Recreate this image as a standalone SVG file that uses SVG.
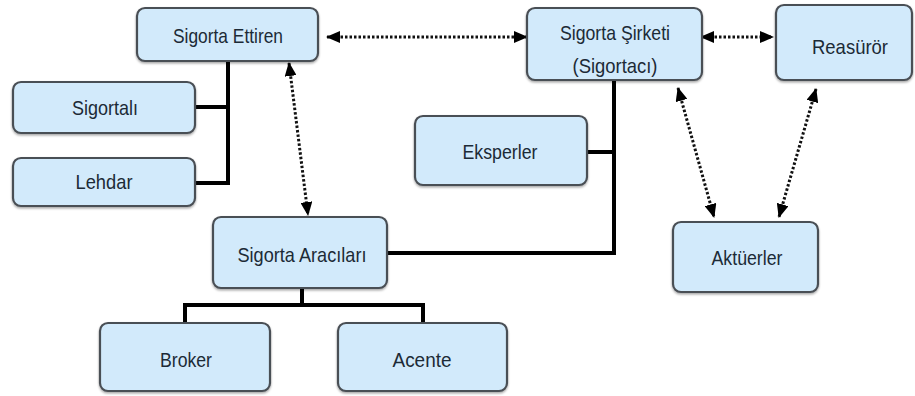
<svg xmlns="http://www.w3.org/2000/svg" width="915" height="396" viewBox="0 0 915 396">
<style>
.box{fill:#d2eafb;stroke:#4a4f55;stroke-width:2.2}
.t{font-family:"Liberation Sans",Arial,sans-serif;font-size:21px;fill:#1c2a36;text-anchor:middle}
.solid{fill:none;stroke:#000;stroke-width:4;stroke-linecap:square}
.dot{fill:none;stroke:#111;stroke-width:3;stroke-dasharray:2.5 2}
</style>
<defs>
<marker id="ah" markerUnits="userSpaceOnUse" markerWidth="14" markerHeight="12" viewBox="0 0 14 12" refX="13" refY="6" orient="auto-start-reverse">
<path d="M0,0 L14,6 L0,12 z" fill="#000"/>
</marker>
<filter id="sh" x="-5%" y="-5%" width="110%" height="120%">
<feDropShadow dx="0" dy="1.5" stdDeviation="0.8" flood-color="#000" flood-opacity="0.35"/>
</filter>
</defs>
<g id="connectors">
<path class="solid" d="M228,62 V183 M196,107 H228 M196,183 H228"/>
<path class="solid" d="M614,81 V253 H388 M588,152 H614"/>
<path class="solid" d="M302,289 V305 M185,305 H423 M185,305 V322 M423,305 V322"/>
<line class="dot" x1="327" y1="37" x2="527" y2="37" marker-start="url(#ah)" marker-end="url(#ah)"/>
<line class="dot" x1="701" y1="37" x2="773" y2="37" marker-start="url(#ah)" marker-end="url(#ah)"/>
<line class="dot" x1="289" y1="63" x2="308" y2="215" marker-start="url(#ah)" marker-end="url(#ah)"/>
<line class="dot" x1="678" y1="88" x2="714" y2="217" marker-start="url(#ah)" marker-end="url(#ah)"/>
<line class="dot" x1="816" y1="89" x2="779" y2="217" marker-start="url(#ah)" marker-end="url(#ah)"/>
</g>
<g id="sigorta-ettiren"><rect class="box" filter="url(#sh)" x="137" y="8" width="181" height="53" rx="8"/><text class="t" x="228" y="43" textLength="110" lengthAdjust="spacingAndGlyphs">Sigorta Ettiren</text></g>
<g id="sigortali"><rect class="box" filter="url(#sh)" x="13" y="82" width="182" height="51" rx="8"/><text class="t" x="105" y="115" textLength="66" lengthAdjust="spacingAndGlyphs">Sigortalı</text></g>
<g id="lehdar"><rect class="box" filter="url(#sh)" x="13" y="158" width="182" height="48" rx="8"/><text class="t" x="104" y="189" textLength="57" lengthAdjust="spacingAndGlyphs">Lehdar</text></g>
<g id="sigorta-sirketi"><rect class="box" filter="url(#sh)" x="527" y="8" width="175" height="72" rx="8"/><text class="t" x="615" y="40" textLength="110" lengthAdjust="spacingAndGlyphs">Sigorta Şirketi</text><text class="t" x="615" y="73" textLength="85" lengthAdjust="spacingAndGlyphs">(Sigortacı)</text></g>
<g id="reasuror"><rect class="box" filter="url(#sh)" x="776" y="5" width="136" height="75" rx="8"/><text class="t" x="850" y="54" textLength="76" lengthAdjust="spacingAndGlyphs">Reasürör</text></g>
<g id="eksperler"><rect class="box" filter="url(#sh)" x="415" y="116" width="172" height="69" rx="8"/><text class="t" x="500" y="159" textLength="75" lengthAdjust="spacingAndGlyphs">Eksperler</text></g>
<g id="sigorta-aracilari"><rect class="box" filter="url(#sh)" x="213" y="217" width="174" height="71" rx="8"/><text class="t" x="302" y="262" textLength="129" lengthAdjust="spacingAndGlyphs">Sigorta Aracıları</text></g>
<g id="aktuerler"><rect class="box" filter="url(#sh)" x="673" y="222" width="145" height="70" rx="8"/><text class="t" x="747" y="265" textLength="71" lengthAdjust="spacingAndGlyphs">Aktüerler</text></g>
<g id="broker"><rect class="box" filter="url(#sh)" x="100" y="323" width="170" height="68" rx="8"/><text class="t" x="186" y="367" textLength="52" lengthAdjust="spacingAndGlyphs">Broker</text></g>
<g id="acente"><rect class="box" filter="url(#sh)" x="338" y="323" width="169" height="68" rx="8"/><text class="t" x="422" y="367" textLength="59" lengthAdjust="spacingAndGlyphs">Acente</text></g>
</svg>
